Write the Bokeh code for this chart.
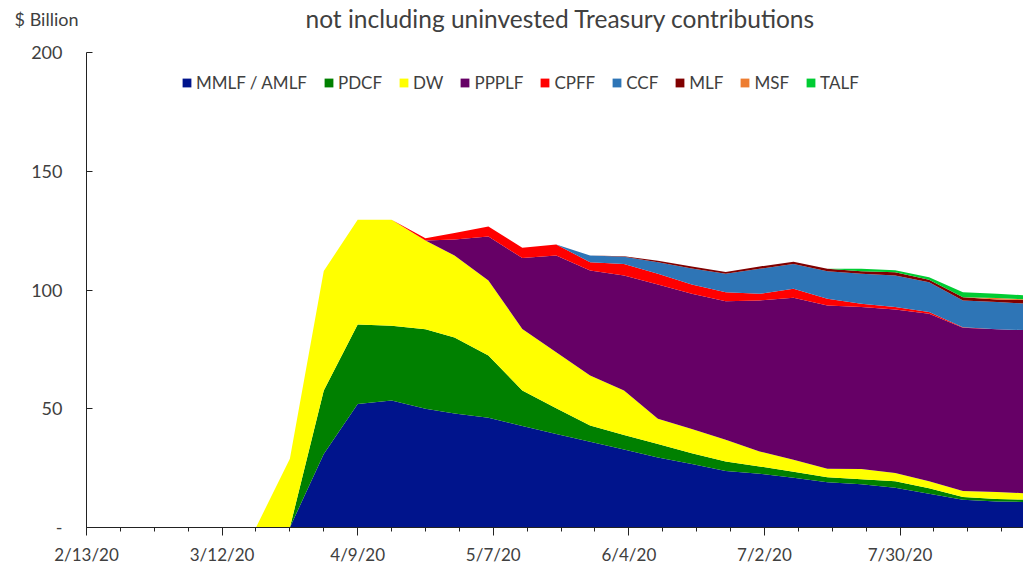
import pandas as pd
from bokeh.plotting import figure
from bokeh.layouts import column
from bokeh.models import ColumnDataSource, Range1d, FixedTicker, Label, Legend, LegendItem
from bokeh.embed import file_html
from bokeh.resources import INLINE

# ---- data (weekly, $ billion) ----
dates = ["2020-02-13", "2020-02-20", "2020-02-27", "2020-03-05", "2020-03-12",
         "2020-03-19", "2020-03-26", "2020-04-02", "2020-04-09", "2020-04-16",
         "2020-04-23", "2020-04-29", "2020-05-06", "2020-05-13", "2020-05-20",
         "2020-05-27", "2020-06-03", "2020-06-10", "2020-06-17", "2020-06-24",
         "2020-07-01", "2020-07-08", "2020-07-15", "2020-07-22", "2020-07-29",
         "2020-08-05", "2020-08-12", "2020-08-19", "2020-08-26"]

mmlf = [0, 0, 0, 0, 0, 0, 0, 31, 52, 53.5, 50, 48, 46.2, 42.7, 39.4, 36.1, 32.8,
        29.5, 26.7, 23.8, 22.6, 21, 19.1, 18.2, 16.7, 14.2, 11.7, 11, 10.7]
pdcf = [0, 0, 0, 0, 0, 0, 0, 26.7, 33.5, 31.5, 33.5, 32, 26.2, 15, 10.8, 6.9, 6.1,
        5.7, 4.6, 4, 3.1, 2.5, 2.1, 2.1, 2.8, 2.3, 1.1, 1, 1]
dw = [0, 0, 0, 0, 0, 0, 29, 50.3, 44.1, 44.6, 37.3, 34.5, 31.6, 25.9, 23.6, 21,
      18.8, 10.6, 10.2, 9.2, 6.3, 5, 3.5, 4.3, 3.5, 3, 2.6, 3, 2.6]
ppplf = [0, 0, 0, 0, 0, 0, 0, 0, 0, 0, 0, 6.8, 18.5, 29.9, 40.7, 44.2, 48.4, 56.5,
         56.9, 58.3, 63.6, 68.2, 68.8, 68.2, 68.8, 70.5, 68.7, 68.5, 68.7]
cpff = [0, 0, 0, 0, 0, 0, 0, 0, 0, 0, 1.0, 2.7, 4.2, 4.3, 4.7, 3.5, 4.9, 4.5, 3.9,
        3.8, 2.8, 3.8, 2.8, 1.4, 1.0, 0.7, 0.2, 0, 0]
ccf = [0, 0, 0, 0, 0, 0, 0, 0, 0, 0, 0, 0, 0, 0, 0, 2.8, 3.0, 4.9, 6.8, 7.7, 10.5,
       10.5, 11.6, 12.6, 13.3, 12.6, 11.3, 11.4, 11.2]
mlf = [0, 0, 0, 0, 0, 0, 0, 0, 0, 0, 0, 0, 0, 0, 0, 0, 0.2, 0.6, 0.8, 0.8, 1.0,
       0.9, 1.0, 1.1, 1.4, 1.0, 1.4, 1.1, 1.5]
msf = [0, 0, 0, 0, 0, 0, 0, 0, 0, 0, 0, 0, 0, 0, 0, 0, 0, 0, 0, 0, 0, 0, 0, 0, 0,
       0, 0, 0.6, 0.3]
talf = [0, 0, 0, 0, 0, 0, 0, 0, 0, 0, 0, 0, 0, 0, 0, 0, 0, 0, 0, 0, 0, 0, 0, 1.0,
        0.8, 1.1, 2.1, 1.8, 1.6]

series_keys = ["mmlf", "pdcf", "dw", "ppplf", "cpff", "ccf", "mlf", "msf", "talf"]
series_labels = ["MMLF / AMLF", "PDCF", "DW", "PPPLF", "CPFF", "CCF", "MLF", "MSF", "TALF"]
series_colors = ["#00148C", "#008000", "#FFFF00", "#660066", "#FF0000",
                 "#2E75B6", "#800000", "#ED7D31", "#00CC33"]

tick_dates = ["2020-02-13", "2020-03-12", "2020-04-09", "2020-05-07",
              "2020-06-04", "2020-07-02", "2020-07-30"]
tick_labels = ["2/13/20", "3/12/20", "4/9/20", "5/7/20", "6/4/20", "7/2/20", "7/30/20"]
y_ticks = [0, 50, 100, 150, 200]
y_tick_labels = ["-", "50", "100", "150", "200"]

title_text = "not including uninvested Treasury contributions"
unit_text = "$ Billion"

# ---- build ----
start = pd.Timestamp(dates[0])
x_days = [(pd.Timestamp(d) - start).days for d in dates]
tick_pos = [(pd.Timestamp(d) - start).days for d in tick_dates]
minor_pos = list(range(0, 197, 7))

data = dict(x=x_days, mmlf=mmlf, pdcf=pdcf, dw=dw, ppplf=ppplf, cpff=cpff,
            ccf=ccf, mlf=mlf, msf=msf, talf=talf)
source = ColumnDataSource(data)

FONT = "Lato"
TXT = "#404040"
W = 1023
TOP_H = 36
LEFT = 86
FRAME_W = W - LEFT

# header strip: unit label (as a horizontal axis label) and the title
head = figure(width=W, height=TOP_H, output_backend="svg", toolbar_location=None,
              x_range=Range1d(0, FRAME_W), y_range=Range1d(0, TOP_H),
              x_axis_type=None, min_border=0, min_border_left=LEFT)
head.outline_line_color = None
head.xgrid.visible = False
head.ygrid.visible = False
hy = head.yaxis[0]
hy.ticker = FixedTicker(ticks=[])
hy.axis_line_color = None
hy.major_tick_line_color = None
hy.minor_tick_line_color = None
hy.major_tick_out = 0
hy.major_tick_in = 0
hy.major_label_text_font_size = "0px"
hy.major_label_standoff = 0
hy.axis_label = unit_text
hy.axis_label_orientation = "horizontal"
hy.axis_label_standoff = 8
hy.axis_label_text_font = FONT
hy.axis_label_text_font_style = "normal"
hy.axis_label_text_font_size = "18px"
hy.axis_label_text_color = TXT
head.add_layout(Label(x=560 - LEFT, y=TOP_H - 18, text=title_text, text_align="center",
                      text_baseline="middle", text_font=FONT, text_font_size="24.5px",
                      text_color=TXT))

# main chart
p = figure(width=W, height=567 - TOP_H, output_backend="svg", toolbar_location=None,
           x_range=Range1d(0, 193.5), y_range=Range1d(0, 200),
           min_border_left=LEFT, min_border_right=0, min_border_top=52 - TOP_H,
           min_border_bottom=40)
p.background_fill_color = "white"
p.border_fill_color = "white"
p.outline_line_color = None
p.xgrid.visible = False
p.ygrid.visible = False

renderers = p.varea_stack(stackers=series_keys, x="x", color=series_colors, source=source)

# x axis
xa = p.xaxis[0]
xa.ticker = FixedTicker(ticks=tick_pos, minor_ticks=minor_pos)
xa.major_label_overrides = {t: l for t, l in zip(tick_pos, tick_labels)}
xa.axis_line_color = "#222222"
xa.major_tick_line_color = "#222222"
xa.minor_tick_line_color = "#222222"
xa.major_tick_in = 0
xa.major_tick_out = 8
xa.minor_tick_in = 0
xa.minor_tick_out = 4
xa.major_label_standoff = 8
xa.major_label_text_font = FONT
xa.major_label_text_font_size = "17px"
xa.major_label_text_color = TXT

# y axis
ya = p.yaxis[0]
ya.ticker = FixedTicker(ticks=y_ticks)
ya.major_label_overrides = {t: l for t, l in zip(y_ticks, y_tick_labels)}
ya.axis_line_color = "#222222"
ya.major_tick_line_color = "#222222"
ya.minor_tick_line_color = None
ya.major_tick_in = 6
ya.major_tick_out = 0
ya.major_label_standoff = 24
ya.major_label_text_font = FONT
ya.major_label_text_font_size = "18px"
ya.major_label_text_color = TXT

# legend
items = [LegendItem(label=lab, renderers=[r]) for lab, r in zip(series_labels, renderers)]
legend = Legend(items=items, orientation="horizontal", location=(95, 434),
                border_line_color=None, background_fill_alpha=0, padding=0, margin=0,
                spacing=16, label_standoff=4, glyph_width=11, glyph_height=11,
                label_text_font=FONT, label_text_font_size="17px",
                label_text_color=TXT, label_height=20)
p.add_layout(legend)

layout = column(head, p, spacing=0)
open("out.html", "w").write(file_html(layout, INLINE))
